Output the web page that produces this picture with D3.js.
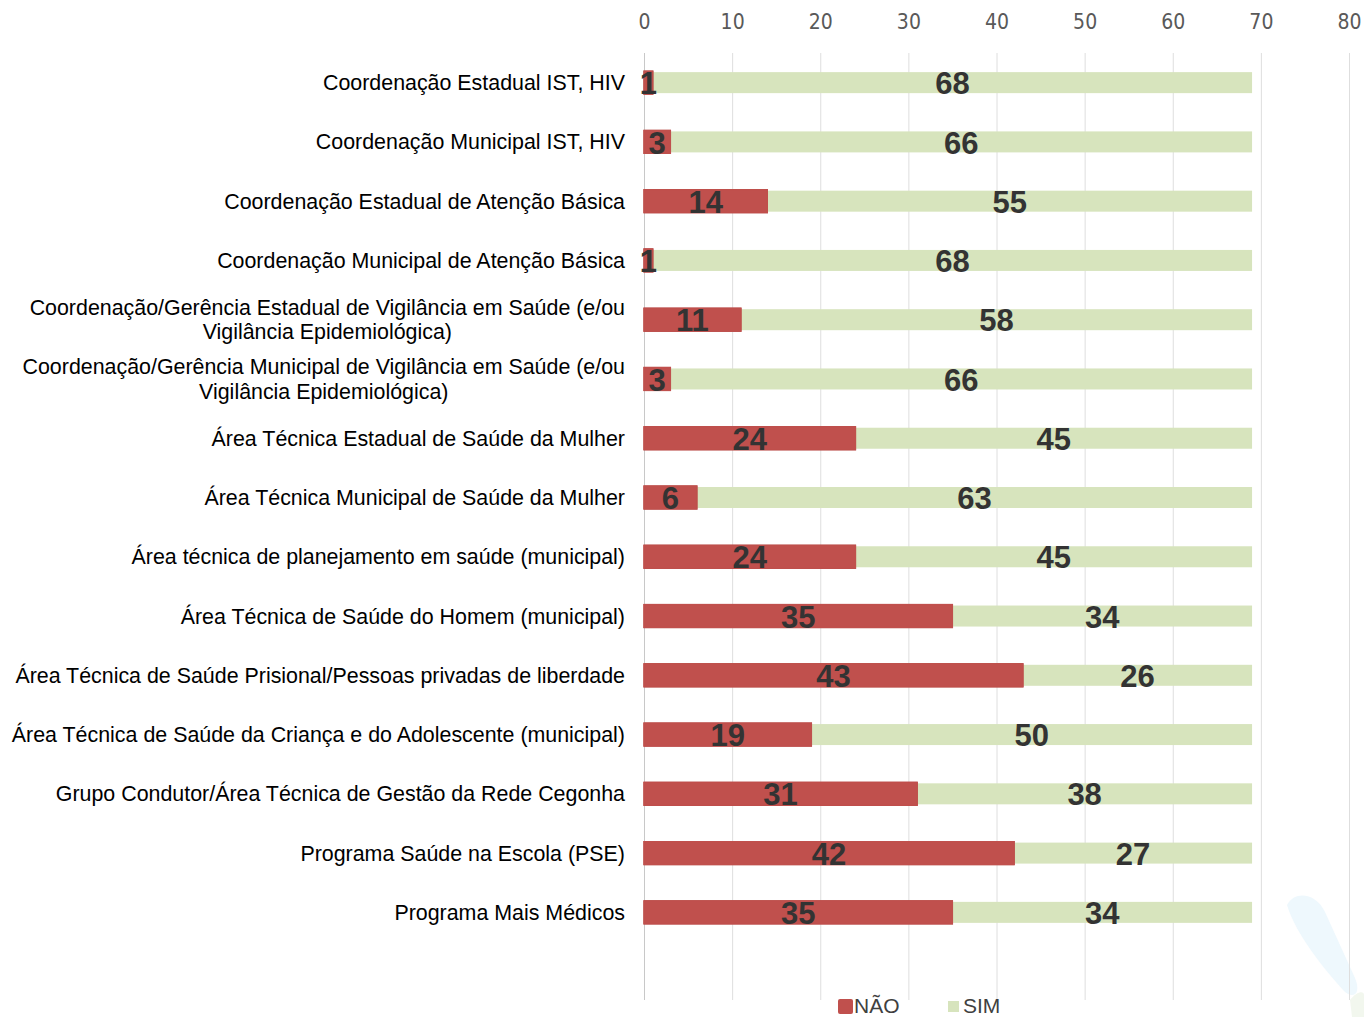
<!DOCTYPE html>
<html><head><meta charset="utf-8">
<script src="https://cdn.jsdelivr.net/npm/d3@7"></script>
<style>body{margin:0;background:#fff}svg{display:block}</style>
</head><body>
<svg id="c" width="1364" height="1017"></svg>
<script>
const categories = [
  ["Coordenação Estadual IST, HIV"],
  ["Coordenação Municipal IST, HIV"],
  ["Coordenação Estadual de Atenção Básica"],
  ["Coordenação Municipal de Atenção Básica"],
  ["Coordenação/Gerência Estadual de Vigilância em Saúde (e/ou","Vigilância Epidemiológica)"],
  ["Coordenação/Gerência Municipal de Vigilância em Saúde (e/ou","Vigilância Epidemiológica)"],
  ["Área Técnica Estadual de Saúde da Mulher"],
  ["Área Técnica Municipal de Saúde da Mulher"],
  ["Área técnica de planejamento em saúde (municipal)"],
  ["Área Técnica de Saúde do Homem (municipal)"],
  ["Área Técnica de Saúde Prisional/Pessoas privadas de liberdade"],
  ["Área Técnica de Saúde da Criança e do Adolescente (municipal)"],
  ["Grupo Condutor/Área Técnica de Gestão da Rede Cegonha"],
  ["Programa Saúde na Escola (PSE)"],
  ["Programa Mais Médicos"]
];
const nao = [1,3,14,1,11,3,24,6,24,35,43,19,31,42,35];
const sim = [68,66,55,68,58,66,45,63,45,34,26,50,38,27,34];
const seriesNames = ["NÃO","SIM"];
const tickValues = [0,10,20,30,40,50,60,70,80];

const svg = d3.select("#c");
const x = d3.scaleLinear().domain([0,80]).range([644,1349]);
const y = d3.scaleBand().domain(d3.range(categories.length)).range([53,942]);

// faint decoration bottom-right
svg.append("path")
  .attr("d","M1287,905 C1295,890 1316,893 1325,912 L1355,978 C1362,995 1352,1000 1343,990 C1325,970 1296,935 1287,905 Z")
  .attr("fill","#eef8fd");
svg.append("path")
  .attr("d","M1350,1000 C1356,992 1364,990 1364,995 L1364,1017 L1352,1017 Z")
  .attr("fill","#f2f7ee");

// gridlines
svg.append("g").selectAll("line").data(tickValues).join("line")
  .attr("x1",d=>x(d)+0.5).attr("x2",d=>x(d)+0.5)
  .attr("y1",53).attr("y2",1000)
  .attr("stroke",d=>d===0?"#c8c8c8":"#dedede").attr("stroke-width",1);

// top axis
const ax = svg.append("g").attr("transform","translate(0,22)")
  .call(d3.axisTop(x).tickValues(tickValues).tickSize(0).tickPadding(0));
ax.select(".domain").remove();
ax.selectAll("text")
  .attr("dy","0.35em")
  .style("font-family","'Liberation Sans Narrow','DejaVu Sans Condensed',sans-serif")
  .style("font-size","21px").attr("fill","#595959");

const bh = 21;
const rows = svg.append("g").selectAll("g").data(d3.range(categories.length)).join("g");

// SIM bars
rows.append("rect")
  .attr("x",i=>x(nao[i])).attr("width",i=>x(nao[i]+sim[i])-x(nao[i]))
  .attr("y",i=>y(i)+y.bandwidth()/2-bh/2).attr("height",bh)
  .attr("fill","#d7e4bd");
// NÃO bars
rows.append("rect")
  .attr("x",i=>x(0)).attr("width",i=>x(nao[i])-x(0))
  .attr("y",i=>y(i)+y.bandwidth()/2-bh/2-1).attr("height",bh+2)
  .attr("fill","#c0504d").attr("stroke","#c0504d").attr("stroke-width",1.2)
  .style("filter","drop-shadow(0 0 0.6px #b04542)");

// value labels
const lblStyle = sel => sel.attr("text-anchor","middle").attr("dy","0.36em")
  .style("font-family","'Liberation Sans',Arial,sans-serif").style("font-weight","bold")
  .style("font-size","31px").attr("fill","#333333");
rows.append("text")
  .attr("x",i=>x(nao[i]/2)).attr("y",i=>y(i)+y.bandwidth()/2+0.5)
  .text(i=>nao[i]).call(lblStyle);
rows.append("text")
  .attr("x",i=>x(nao[i]+sim[i]/2)).attr("y",i=>y(i)+y.bandwidth()/2+0.5)
  .text(i=>sim[i]).call(lblStyle);

// category labels
rows.each(function(i){
  const g = d3.select(this);
  const lines = categories[i];
  const cy = y(i)+y.bandwidth()/2;
  const t = g.append("text")
    .style("font-family","'Liberation Sans',Arial,sans-serif")
    .style("font-size","21.4px").attr("fill","#000");
  const lh = 24.5;
  const tspans = lines.map((ln,k)=> t.append("tspan")
      .attr("y",cy+(k-(lines.length-1)/2)*lh).attr("dy","0.35em").text(ln));
  if(lines.length===1){
    t.attr("text-anchor","end"); tspans[0].attr("x",625);
  } else {
    const w = d3.max(tspans,s=>s.node().getComputedTextLength());
    t.attr("text-anchor","middle"); tspans.forEach(s=>s.attr("x",625-w/2));
  }
});

// legend
const leg = svg.append("g");
leg.append("rect").attr("x",838).attr("y",999).attr("width",15).attr("height",15).attr("rx",2).attr("fill","#c0504d");
leg.append("text").attr("x",854).attr("y",1006).attr("dy","0.35em").text(seriesNames[0])
  .style("font-family","'Liberation Sans',Arial,sans-serif").style("font-size","21px").attr("fill","#404040");
leg.append("rect").attr("x",948).attr("y",1001).attr("width",11).attr("height",11).attr("fill","#d7e4bd");
leg.append("text").attr("x",963).attr("y",1006).attr("dy","0.35em").text(seriesNames[1])
  .style("font-family","'Liberation Sans',Arial,sans-serif").style("font-size","21px").attr("fill","#404040");
</script>
</body></html>
